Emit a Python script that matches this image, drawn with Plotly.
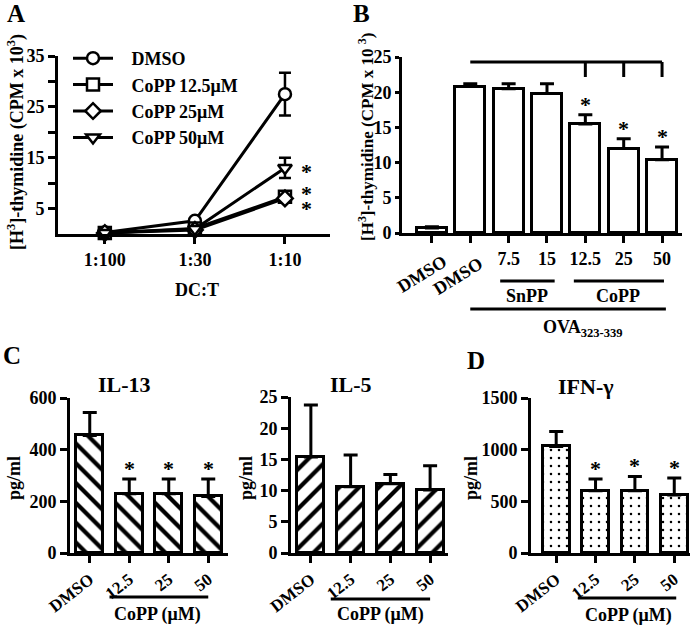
import plotly.graph_objects as go

# ---------------- data ----------------
# Panel A
a_ratios = ["1:100", "1:30", "1:10"]
a_names = ["DMSO", "CoPP 12.5μM", "CoPP 25μM", "CoPP 50μM"]
a_dmso = [0.3, 2.6, 27.5]
a_dmso_err = [0.2, 0.4, 4.2]
a_copp125 = [0.2, 1.1, 7.3]
a_copp125_err = [0.1, 0.3, 0.8]
a_copp25 = [0.2, 0.8, 7.0]
a_copp25_err = [0.1, 0.3, 0.6]
a_copp50 = [0.2, 1.0, 13.0]
a_copp50_err = [0.1, 0.3, 2.0]
a_symbols = ["circle", "square", "diamond", "triangle-down"]
a_yticks = [5, 15, 25, 35]
a_yminor = [10, 20, 30]

# Panel B
b_groups = ["DMSO", "DMSO+OVA", "SnPP 7.5", "SnPP 15", "CoPP 12.5", "CoPP 25", "CoPP 50"]
b_ticklabels = ["", "", "7.5", "15", "12.5", "25", "50"]
b_values = [0.7, 20.8, 20.5, 19.8, 15.5, 12.0, 10.4]
b_err = [0.2, 0.4, 0.7, 1.4, 1.3, 1.4, 1.8]
b_sig = ["", "", "", "", "*", "*", "*"]

# Panels C / D
cd_groups = ["DMSO", "12.5", "25", "50"]
il13_values = [455, 229, 229, 219]
il13_err = [89, 57, 57, 67]
il13_sig = ["", "*", "*", "*"]
il5_values = [15.4, 10.6, 11.1, 10.1]
il5_err = [8.3, 5.1, 1.5, 3.9]
ifng_values = [1031, 603, 603, 561]
ifng_err = [145, 113, 138, 164]
ifng_sig = ["", "*", "*", "*"]

W, H = 696, 627
FONT = "Liberation Serif"


def fx(x):
    return x / W


def fy(y):
    return 1 - y / H


fig = go.Figure()

# ---------------- Panel A ----------------
a_series = [a_dmso, a_copp125, a_copp25, a_copp50]
a_errs = [a_dmso_err, a_copp125_err, a_copp25_err, a_copp50_err]
for name, ys, es, sym in zip(a_names, a_series, a_errs, a_symbols):
    fig.add_trace(go.Scatter(
        x=a_ratios, y=ys, name="&nbsp;&nbsp;&nbsp;" + name, mode="lines+markers",
        line=dict(color="black", width=3),
        marker=dict(symbol=sym, size=12, color="white",
                    line=dict(color="black", width=2.5)),
        error_y=dict(type="data", array=es, color="black", thickness=2.5, width=6),
        xaxis="x", yaxis="y", cliponaxis=False, showlegend=True))

# ---------------- Panel B ----------------
fig.add_trace(go.Bar(
    x=b_groups, y=b_values, width=0.78,
    marker=dict(color="white", line=dict(color="black", width=3)),
    error_y=dict(type="data", array=b_err, arrayminus=[0] * len(b_err),
                 symmetric=False, color="black", thickness=3, width=7),
    xaxis="x2", yaxis="y2", showlegend=False))


def cd_bar(vals, errs, shape, size, solidity, xa, ya):
    return go.Bar(
        x=cd_groups, y=vals, width=0.68,
        marker=dict(color="white", line=dict(color="black", width=3),
                    pattern=dict(shape=shape, fgcolor="black", bgcolor="white",
                                 fgopacity=1, size=size, solidity=solidity,
                                 fillmode="replace")),
        error_y=dict(type="data", array=errs, arrayminus=[0] * len(errs),
                     symmetric=False, color="black", thickness=3, width=7),
        xaxis=xa, yaxis=ya, showlegend=False)


fig.add_trace(cd_bar(il13_values, il13_err, "\\", 14, 0.3, "x3", "y3"))
fig.add_trace(cd_bar(il5_values, il5_err, "/", 14, 0.3, "x4", "y4"))
fig.add_trace(cd_bar(ifng_values, ifng_err, ".", 8, 0.08, "x5", "y5"))

# ---------------- axes ----------------
axis_common = dict(showline=True, linecolor="black", linewidth=3, ticks="outside",
                   ticklen=7, tickwidth=3, tickcolor="black", showgrid=False,
                   zeroline=False, mirror=False, fixedrange=True, automargin=False)
tickfont = dict(family=FONT, size=18, color="black", weight="bold")
cd_xfont = dict(family=FONT, size=17, color="black", weight="bold")
b_y_common = dict(axis_common, ticklen=4)

fig.update_layout(
    xaxis=dict(domain=[fx(58), fx(330)], range=[-0.52, 2.5], anchor="y",
               tickfont=tickfont, type="category", **axis_common),
    yaxis=dict(domain=[fy(234), fy(56)], range=[0, 35], anchor="x",
               tickvals=a_yticks, tickfont=tickfont,
               minor=dict(tickvals=a_yminor, ticks="outside", ticklen=7, tickwidth=3,
                          tickcolor="black", showgrid=False),
               **axis_common),
    xaxis2=dict(domain=[fx(402), fx(682)], range=[-0.78, 6.52], anchor="y2",
                type="category", tickvals=b_groups, ticktext=b_ticklabels,
                tickfont=tickfont, **axis_common),
    yaxis2=dict(domain=[fy(233), fy(57)], range=[0, 25], anchor="x2",
                tickvals=[0, 5, 10, 15, 20, 25], tickfont=tickfont, **b_y_common),
    xaxis3=dict(domain=[fx(70), fx(228)], range=[-0.5, 3.5], anchor="y3",
                type="category", tickangle=-38, tickfont=cd_xfont, **axis_common),
    yaxis3=dict(domain=[fy(553), fy(398)], range=[0, 600], anchor="x3",
                tickvals=[0, 200, 400, 600], tickfont=tickfont, **axis_common),
    xaxis4=dict(domain=[fx(291), fx(448)], range=[-0.5, 3.45], anchor="y4",
                type="category", tickangle=-38, tickfont=cd_xfont, **axis_common),
    yaxis4=dict(domain=[fy(553), fy(397)], range=[0, 25], anchor="x4",
                tickvals=[0, 5, 10, 15, 20, 25], tickfont=tickfont, **axis_common),
    xaxis5=dict(domain=[fx(531), fx(690)], range=[-0.64, 3.4], anchor="y5",
                type="category", tickangle=-38, tickfont=cd_xfont, **axis_common),
    yaxis5=dict(domain=[fy(553), fy(398)], range=[0, 1500], anchor="x5",
                tickvals=[0, 500, 1000, 1500], tickfont=tickfont, **axis_common),
)

# ---------------- annotations ----------------
ann = []


def text(x, y, t, size=18, angle=0, xref="paper", yref="paper", xanchor="center",
         yanchor="middle", xshift=0, yshift=0):
    ann.append(dict(x=x, y=y, text=t, xref=xref, yref=yref, showarrow=False,
                    textangle=angle, xanchor=xanchor, yanchor=yanchor,
                    xshift=xshift, yshift=yshift,
                    font=dict(family=FONT, size=size, color="black", weight="bold")))


# panel letters
text(fx(16), fy(13), "A", size=25)
text(fx(362), fy(13), "B", size=25)
text(fx(12), fy(355), "C", size=25)
text(fx(476), fy(360), "D", size=25)

# axis titles
text(fx(16), fy(142), "[H<sup>3</sup>]-thymidine (CPM x 10<sup>3</sup>)", angle=-90)
text(fx(366), fy(137), "[H<sup>3</sup>]-thymidine (CPM x 10 <sup>3</sup>)", size=17, angle=-90)
text(fx(197), fy(290), "DC:T")
text(fx(14), fy(478), "pg/ml", angle=-90)
text(fx(246), fy(478), "pg/ml", angle=-90)
text(fx(471), fy(478), "pg/ml", angle=-90)

# titles C/D
text(fx(125), fy(384), "IL-13", size=22)
text(fx(351), fy(384), "IL-5", size=22)
text(fx(586), fy(386), "IFN-γ", size=22)

# Panel A significance
text(a_ratios[2], a_copp50[2], "*", size=22, xref="x", yref="y", xshift=22, yshift=-4)
text(a_ratios[2], a_copp125[2], "*", size=22, xref="x", yref="y", xshift=22, yshift=3)
text(a_ratios[2], a_copp25[2], "*", size=22, xref="x", yref="y", xshift=22, yshift=-10)

# Panel B labels
for i, (v, e, s) in enumerate(zip(b_values, b_err, b_sig)):
    if s:
        text(i, v + e, s, size=22, xref="x2", yref="y2", yanchor="bottom", yshift=-4)
text(0, fy(274), "DMSO", angle=-32, xref="x2", xshift=-10)
text(1, fy(276), "DMSO", angle=-32, xref="x2", xshift=-12)
text(fx(527), fy(296), "SnPP")
text(fx(618), fy(296), "CoPP")
text(fx(583), fy(328), "OVA<sub>323-339</sub>")

# Panel C/D significance
for i, (v, e, s) in enumerate(zip(il13_values, il13_err, il13_sig)):
    if s:
        text(i, v + e, s, size=22, xref="x3", yref="y3", yanchor="bottom", yshift=-4)
for i, (v, e, s) in enumerate(zip(ifng_values, ifng_err, ifng_sig)):
    if s:
        text(i, v + e, s, size=22, xref="x5", yref="y5", yanchor="bottom", yshift=-4)

text(fx(157), fy(614), "CoPP (μM)")
text(fx(380), fy(614), "CoPP (μM)")
text(fx(628), fy(615), "CoPP (μM)")

# ---------------- shapes ----------------
shapes = []
LW = 3


def seg(x0, y0, x1, y1, xref="paper", yref="paper"):
    shapes.append(dict(type="line", x0=x0, y0=y0, x1=x1, y1=y1, xref=xref,
                       yref=yref, line=dict(color="black", width=LW)))


# bracket in B (category indices)
seg(1, fy(62), 6, fy(62), xref="x2")
for i in (4, 5, 6):
    seg(i, fy(62), i, fy(77), xref="x2")
# group lines under B
seg(1.78, fy(281), 3.2, fy(281), xref="x2")
seg(3.7, fy(281), 6.05, fy(281), xref="x2")
seg(1, fy(309), 6.1, fy(309), xref="x2")
# group lines under C/D
seg(0.5, fy(597), 3.0, fy(597), xref="x3")
seg(0.5, fy(599), 3.0, fy(599), xref="x4")
seg(0.55, fy(598), 3.05, fy(598), xref="x5")

fig.update_layout(
    template="none",
    width=W, height=H, margin=dict(l=0, r=0, t=0, b=0, autoexpand=False),
    paper_bgcolor="white", plot_bgcolor="white",
    font=dict(family=FONT, size=18, color="black", weight="bold"),
    annotations=ann, shapes=shapes, bargap=0,
    legend=dict(x=fx(68), y=fy(40), xanchor="left", yanchor="top",
                bgcolor="rgba(0,0,0,0)", font=dict(family=FONT, size=18, weight="bold"),
                itemwidth=40, tracegroupgap=0),
)

fig.write_html("out.html", config={"displayModeBar": False},
               post_script="document.body.style.margin='0';")
